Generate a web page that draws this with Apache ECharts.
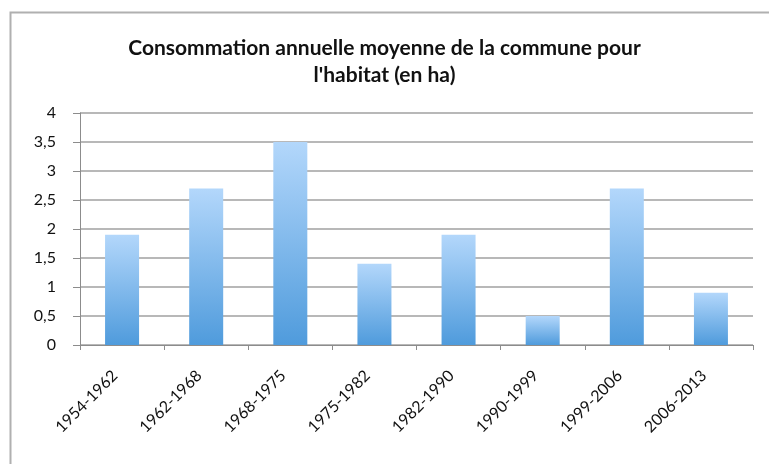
<!DOCTYPE html>
<html>
<head>
<meta charset="utf-8">
<script src="https://cdn.jsdelivr.net/npm/echarts@6/dist/echarts.min.js"></script>
<style>
  html, body { margin: 0; padding: 0; background: #fff; }
  #chart { width: 769px; height: 464px; }
</style>
</head>
<body>
<div id="chart"></div>
<script>
// Périodes et consommation annuelle moyenne (ha)
const periods = ['1954-1962', '1962-1968', '1968-1975', '1975-1982', '1982-1990', '1990-1999', '1999-2006', '2006-2013'];
const consumption = [1.9, 2.7, 3.5, 1.4, 1.9, 0.5, 2.7, 0.9];
const yTicks = [0, 0.5, 1, 1.5, 2, 2.5, 3, 3.5, 4];

const fontFam = 'Lato, "Open Sans", sans-serif';
const chart = echarts.init(document.getElementById('chart'), null, { renderer: 'canvas' });

chart.setOption({
  animation: false,
  backgroundColor: '#ffffff',
  title: {
    text: "Consommation annuelle moyenne de la commune pour\nl'habitat (en ha)",
    left: 'center',
    top: 30,
    textStyle: { fontFamily: fontFam, fontSize: 21, fontWeight: 'bold', color: '#111', lineHeight: 27 }
  },
  graphic: [{
    type: 'rect',
    shape: { x: 10.5, y: 12.5, width: 800, height: 500 },
    style: { fill: 'none', stroke: '#b0b0b0', lineWidth: 2 },
    silent: true
  }],
  grid: { left: 80, right: 16, top: 113, bottom: 119 },
  xAxis: {
    type: 'category',
    data: periods,
    boundaryGap: true,
    axisLine: { lineStyle: { color: '#8c8c8c', width: 1 } },
    axisTick: { show: true, length: 5, lineStyle: { color: '#8c8c8c' } },
    axisLabel: {
      rotate: 45, fontFamily: fontFam, fontSize: 16, color: '#111',
      margin: 21, padding: [0, 10, 0, 0]
    }
  },
  yAxis: {
    type: 'value',
    min: yTicks[0],
    max: yTicks[yTicks.length - 1],
    interval: 0.5,
    axisLine: { show: true, lineStyle: { color: '#8c8c8c' } },
    axisTick: { show: true, length: 7, lineStyle: { color: '#8c8c8c' } },
    splitLine: { lineStyle: { color: '#a0a0a0', width: 1.5 } },
    axisLabel: {
      fontFamily: fontFam, fontSize: 16, color: '#111', margin: 24,
      formatter: v => String(v).replace('.', ',')
    }
  },
  series: [{
    type: 'bar',
    data: consumption,
    barWidth: 34,
    itemStyle: {
      color: new echarts.graphic.LinearGradient(0, 0, 0, 1, [
        { offset: 0, color: '#b3d7fb' },
        { offset: 1, color: '#4f9bdc' }
      ])
    }
  }]
});
</script>
</body>
</html>
